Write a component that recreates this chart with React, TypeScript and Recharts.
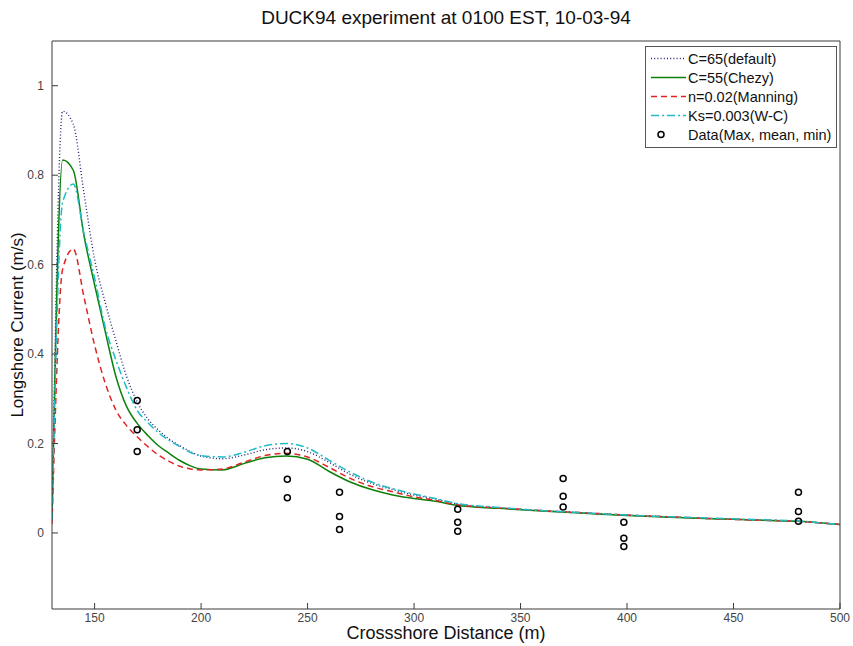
import React from 'react';
import { ComposedChart, Line, Scatter, XAxis, YAxis } from 'recharts';

const X_GRID = [130, 135, 140, 145, 150, 155, 160, 165, 170, 175, 180, 185, 190, 195, 200, 210, 220, 230, 240, 250, 260, 270, 280, 290, 300, 310, 320, 340, 360, 380, 400, 420, 440, 460, 480, 490, 500];

const C65_DEFAULT = [0.03, 0.943, 0.914, 0.76, 0.612, 0.515, 0.43, 0.35, 0.293, 0.255, 0.23, 0.21, 0.195, 0.182, 0.172, 0.166, 0.174, 0.186, 0.19, 0.182, 0.158, 0.131, 0.111, 0.097, 0.085, 0.076, 0.065, 0.056, 0.05, 0.045, 0.04, 0.036, 0.032, 0.029, 0.026, 0.023, 0.019];
const C55_CHEZY = [0.03, 0.834, 0.811, 0.665, 0.555, 0.45, 0.35, 0.283, 0.245, 0.218, 0.195, 0.178, 0.162, 0.15, 0.143, 0.141, 0.155, 0.168, 0.172, 0.165, 0.138, 0.114, 0.097, 0.085, 0.077, 0.071, 0.062, 0.055, 0.049, 0.044, 0.039, 0.035, 0.032, 0.029, 0.026, 0.023, 0.019];
const N002_MANNING = [0.02, 0.59, 0.635, 0.528, 0.42, 0.335, 0.275, 0.24, 0.215, 0.193, 0.174, 0.16, 0.149, 0.143, 0.141, 0.143, 0.158, 0.173, 0.178, 0.17, 0.147, 0.122, 0.104, 0.092, 0.081, 0.073, 0.063, 0.056, 0.05, 0.045, 0.04, 0.036, 0.032, 0.029, 0.026, 0.023, 0.019];
const KS0003_WC = [0.03, 0.74, 0.78, 0.67, 0.57, 0.46, 0.387, 0.325, 0.274, 0.247, 0.224, 0.207, 0.193, 0.18, 0.173, 0.17, 0.18, 0.195, 0.2, 0.19, 0.163, 0.136, 0.114, 0.099, 0.087, 0.077, 0.066, 0.057, 0.05, 0.045, 0.04, 0.036, 0.033, 0.03, 0.027, 0.023, 0.019];

const DATA_X = [170, 240.5, 265, 320.5, 370, 398.5, 480.5];
const DATA_MAX = [0.296, 0.182, 0.091, 0.053, 0.122, 0.024, 0.091];
const DATA_MEAN = [0.231, 0.12, 0.037, 0.024, 0.082, -0.012, 0.048];
const DATA_MIN = [0.182, 0.079, 0.008, 0.004, 0.058, -0.03, 0.026];

const X_TICKS = [150, 200, 250, 300, 350, 400, 450, 500];
const Y_TICKS = [0, 0.2, 0.4, 0.6, 0.8, 1];

const TITLE = 'DUCK94 experiment at 0100 EST, 10-03-94';
const X_LABEL = 'Crossshore Distance (m)';
const Y_LABEL = 'Longshore Current (m/s)';

const SERIES = [
  { name: 'C=65(default)', values: C65_DEFAULT, color: '#22227a', dash: '1 2.2', width: 1.4 },
  { name: 'C=55(Chezy)', values: C55_CHEZY, color: '#0a820a', dash: undefined, width: 1.5 },
  { name: 'n=0.02(Manning)', values: N002_MANNING, color: '#e02424', dash: '6 4', width: 1.5 },
  { name: 'Ks=0.003(W-C)', values: KS0003_WC, color: '#1fbcc4', dash: '8 3 2 3', width: 1.5 },
];
const DATA_NAME = 'Data(Max, mean, min)';

const FONT = '"Liberation Sans", Arial, sans-serif';
const AXIS_COLOR = '#3a3a3a';

const scatterData = [
  ...DATA_X.map((x, i) => ({ x, y: DATA_MAX[i] })),
  ...DATA_X.map((x, i) => ({ x, y: DATA_MEAN[i] })),
  ...DATA_X.map((x, i) => ({ x, y: DATA_MIN[i] })),
];

const OpenCircle = (props: any) => (
  <circle cx={props.cx} cy={props.cy} r={3} fill="none" stroke="#000" strokeWidth={1.5} />
);

const tickStyle = { fill: '#444', fontSize: 12, fontFamily: FONT };

export default function App() {
  return (
    <div style={{ position: 'relative', width: 853, height: 646, background: '#fff', fontFamily: FONT, overflow: 'hidden' }}>
      <style>{'html,body{margin:0;padding:0;}'}</style>
      <ComposedChart width={853} height={646} margin={{ top: 40, right: 12, bottom: 36, left: 51 }}>
        <XAxis
          xAxisId={0}
          dataKey="x"
          type="number"
          domain={[130, 500]}
          ticks={X_TICKS}
          allowDataOverflow
          height={1}
          tickSize={-6}
          tickMargin={10}
          tick={tickStyle}
          stroke={AXIS_COLOR}
          interval={0}
        />
        <XAxis
          xAxisId="top"
          orientation="top"
          dataKey="x"
          type="number"
          domain={[130, 500]}
          ticks={X_TICKS}
          allowDataOverflow
          height={1}
          tickSize={-6}
          tick={false}
          stroke={AXIS_COLOR}
          interval={0}
        />
        <YAxis
          yAxisId={0}
          type="number"
          domain={[-0.17, 1.1]}
          ticks={Y_TICKS}
          allowDataOverflow
          width={1}
          tickSize={-6}
          tickMargin={14}
          tick={tickStyle}
          stroke={AXIS_COLOR}
          interval={0}
        />
        <YAxis
          yAxisId="right"
          orientation="right"
          type="number"
          domain={[-0.17, 1.1]}
          ticks={Y_TICKS}
          allowDataOverflow
          width={1}
          tickSize={-6}
          tick={false}
          stroke={AXIS_COLOR}
          interval={0}
        />
        {SERIES.map((s) => (
          <Line
            key={s.name}
            name={s.name}
            data={X_GRID.map((x, i) => ({ x, y: s.values[i] }))}
            dataKey="y"
            type="monotone"
            stroke={s.color}
            strokeWidth={s.width}
            strokeDasharray={s.dash}
            dot={false}
            activeDot={false}
            isAnimationActive={false}
          />
        ))}
        <Scatter
          name={DATA_NAME}
          data={scatterData}
          dataKey="y"
          shape={OpenCircle}
          isAnimationActive={false}
        />
      </ComposedChart>

      <div style={{ position: 'absolute', left: 52, width: 788, top: 8, textAlign: 'center', fontSize: 19, lineHeight: '20px', color: '#111' }}>
        {TITLE}
      </div>
      <div style={{ position: 'absolute', left: 52, width: 788, top: 624, textAlign: 'center', fontSize: 18, lineHeight: '18px', color: '#111' }}>
        {X_LABEL}
      </div>
      <div
        style={{
          position: 'absolute',
          left: 18 - 150,
          top: 325 - 10,
          width: 300,
          textAlign: 'center',
          fontSize: 17,
          lineHeight: '20px',
          color: '#111',
          transform: 'rotate(-90deg)',
          transformOrigin: '150px 10px',
        }}
      >
        {Y_LABEL}
      </div>

      <div
        style={{
          position: 'absolute',
          left: 645,
          top: 46,
          width: 190,
          height: 100,
          border: '1px solid #555',
          background: '#fff',
          fontSize: 14.5,
          color: '#111',
        }}
      >
        {SERIES.map((s, i) => (
          <div key={s.name} style={{ position: 'absolute', left: 0, top: 2 + i * 19, height: 19, display: 'flex', alignItems: 'center' }}>
            <svg width={42} height={19} style={{ display: 'block' }}>
              <line x1={5} x2={40} y1={9.5} y2={9.5} stroke={s.color} strokeWidth={s.width} strokeDasharray={s.dash} />
            </svg>
            <span style={{ whiteSpace: 'nowrap' }}>{s.name}</span>
          </div>
        ))}
        <div style={{ position: 'absolute', left: 0, top: 2 + 4 * 19, height: 19, display: 'flex', alignItems: 'center' }}>
          <svg width={42} height={19} style={{ display: 'block' }}>
            <circle cx={15} cy={9.5} r={3} fill="none" stroke="#000" strokeWidth={1.5} />
          </svg>
          <span style={{ whiteSpace: 'nowrap' }}>{DATA_NAME}</span>
        </div>
      </div>
    </div>
  );
}
